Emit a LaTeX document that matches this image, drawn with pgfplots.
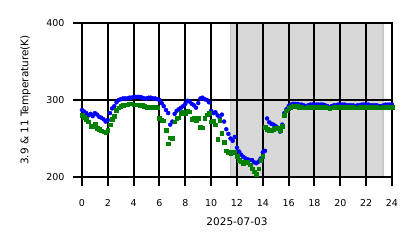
\documentclass[border=0pt]{standalone}
\usepackage{pgfplots}
\pgfplotsset{compat=1.18}
\usepackage{fontspec}
\setmainfont{DejaVu Sans}
\definecolor{shade}{RGB}{216,216,216}
\definecolor{shadeedge}{RGB}{200,200,200}
\definecolor{mgreen}{RGB}{0,128,0}
\begin{document}
\begin{tikzpicture}
\useasboundingbox (-82pt,-71pt) rectangle (336pt,177pt);
\begin{axis}[
  at={(0,0)}, anchor=south west,
  scale only axis, width=310pt, height=154pt,
  xmin=0, xmax=24, ymin=200, ymax=400,
  xtick={0,2,...,24}, ytick={200,300,400},
  grid=major, grid style={black, line width=2pt},
  axis line style={black, line width=2pt},
  tick style={black, line width=2pt},
  tick align=outside, major tick length=9pt,
  xtick pos=bottom, ytick pos=left,
  axis on top,
  tick label style={font=\fontsize{9.5}{11}\selectfont},
  /pgf/number format/assume math mode=true,
  xticklabel style={yshift=-10pt},
  yticklabel style={xshift=-5pt},
  xlabel={2025-07-03}, ylabel={3.9 \& 11 Temperature(K)},
  label style={font=\fontsize{10.5}{12}\selectfont},
  xlabel style={yshift=-4pt},
  ylabel style={yshift=9pt},
]
\addplot[fill=shade, draw=shadeedge, line width=1.5pt] coordinates {(11.5,200) (11.5,400) (23.3,400) (23.3,200)} --cycle;
\addplot[only marks, mark=*, mark size=2pt, blue, mark options={draw=blue, fill=blue}] coordinates {
(0.0,287)(0.17,285)(0.33,283)(0.5,280)(0.67,282)(0.83,279)(1.0,283)(1.17,281)(1.33,278)(1.5,277)(1.67,275)(1.83,272)
(2.0,274)(2.17,283)(2.33,289)(2.5,292)(2.67,297)(2.83,300)(3.0,301)(3.17,302)(3.33,302)(3.5,302)(3.67,303)(3.83,303)
(4.0,304)(4.17,304)(4.33,304)(4.5,304)(4.67,303)(4.83,302)(5.0,302)(5.17,303)(5.33,303)(5.5,302)(5.67,302)(5.83,301)
(6.0,300)(6.17,296)(6.33,292)(6.5,287)(6.67,283)(6.83,268)(7.0,272)(7.17,282)(7.33,286)(7.5,288)(7.67,290)(7.83,292)
(8.0,295)(8.17,299)(8.33,298)(8.5,295)(8.67,293)(8.83,290)(9.0,296)(9.17,302)(9.33,303)(9.5,301)(9.67,300)(9.83,297)
(10.0,286)(10.17,283)(10.33,284)(10.5,280)(10.67,276)(10.83,281)(11.0,272)(11.17,262)(11.33,256)(11.5,250)(11.67,247)(11.83,252)
(12.0,238)(12.17,233)(12.33,229)(12.5,226)(12.67,224)(12.83,223)(13.0,222)(13.17,222)(13.33,219)(13.5,218)(13.67,220)(13.83,224)
(14.0,232)(14.17,234)(14.33,276)(14.5,271)(14.67,269)(14.83,268)(15.0,266)(15.17,264)(15.33,259)(15.5,268)(15.67,283)(15.83,288)
(16.0,292)(16.17,294)(16.33,295)(16.5,295)(16.67,295)(16.83,294)(17.0,294)(17.17,293)(17.33,292)(17.5,293)(17.67,294)(17.83,294)
(18.0,294)(18.17,294)(18.33,294)(18.5,294)(18.67,294)(18.83,293)(19.0,292)(19.17,290)(19.33,292)(19.5,293)(19.67,293)(19.83,294)
(20.0,294)(20.17,294)(20.33,294)(20.5,293)(20.67,293)(20.83,293)(21.0,293)(21.17,292)(21.33,293)(21.5,293)(21.67,294)(21.83,294)
(22.0,294)(22.17,294)(22.33,293)(22.5,293)(22.67,293)(22.83,293)(23.0,292)(23.17,292)(23.33,293)(23.5,294)(23.67,294)(23.83,294)(24.0,294)
};
\addplot[only marks, mark=square*, mark size=1.8pt, mgreen, mark options={draw=mgreen, fill=mgreen}] coordinates {
(0.0,280)(0.17,278)(0.33,275)(0.5,272)(0.67,266)(0.83,266)(1.0,269)(1.17,263)(1.33,262)(1.5,260)(1.67,259)(1.83,258)
(2.0,261)(2.17,268)(2.33,275)(2.5,279)(2.67,287)(2.83,290)(3.0,292)(3.17,293)(3.33,294)(3.5,294)(3.67,295)(3.83,295)
(4.0,294)(4.17,294)(4.33,294)(4.5,293)(4.67,293)(4.83,292)(5.0,291)(5.17,291)(5.33,291)(5.5,291)(5.67,291)(5.83,290)
(6.0,276)(6.17,274)(6.33,273)(6.5,261)(6.67,243)(6.83,251)(7.0,250)(7.17,272)(7.33,276)(7.5,277)(7.67,283)(7.83,285)
(8.0,283)(8.17,286)(8.33,285)(8.5,275)(8.67,276)(8.83,274)(9.0,276)(9.17,265)(9.33,264)(9.5,276)(9.67,281)(9.83,283)
(10.0,272)(10.17,273)(10.33,268)(10.5,249)(10.67,274)(10.83,257)(11.0,245)(11.17,234)(11.33,232)(11.5,231)(11.67,233)(11.83,232)
(12.0,227)(12.17,222)(12.33,220)(12.5,218)(12.67,219)(12.83,219)(13.0,216)(13.17,211)(13.33,207)(13.5,204)(13.67,211)(13.83,222)
(14.0,227)(14.17,265)(14.33,262)(14.5,261)(14.67,261)(14.83,262)(15.0,264)(15.17,263)(15.33,260)(15.5,266)(15.67,280)(15.83,286)
(16.0,289)(16.17,291)(16.33,292)(16.5,292)(16.67,292)(16.83,291)(17.0,291)(17.17,290)(17.33,290)(17.5,291)(17.67,291)(17.83,291)
(18.0,291)(18.17,291)(18.33,291)(18.5,291)(18.67,291)(18.83,291)(19.0,290)(19.17,289)(19.33,290)(19.5,291)(19.67,291)(19.83,291)
(20.0,291)(20.17,291)(20.33,291)(20.5,291)(20.67,291)(20.83,291)(21.0,291)(21.17,290)(21.33,290)(21.5,291)(21.67,291)(21.83,291)
(22.0,291)(22.17,291)(22.33,291)(22.5,291)(22.67,291)(22.83,291)(23.0,290)(23.17,290)(23.33,291)(23.5,291)(23.67,291)(23.83,291)(24.0,291)
};
\end{axis}
\end{tikzpicture}
\end{document}
